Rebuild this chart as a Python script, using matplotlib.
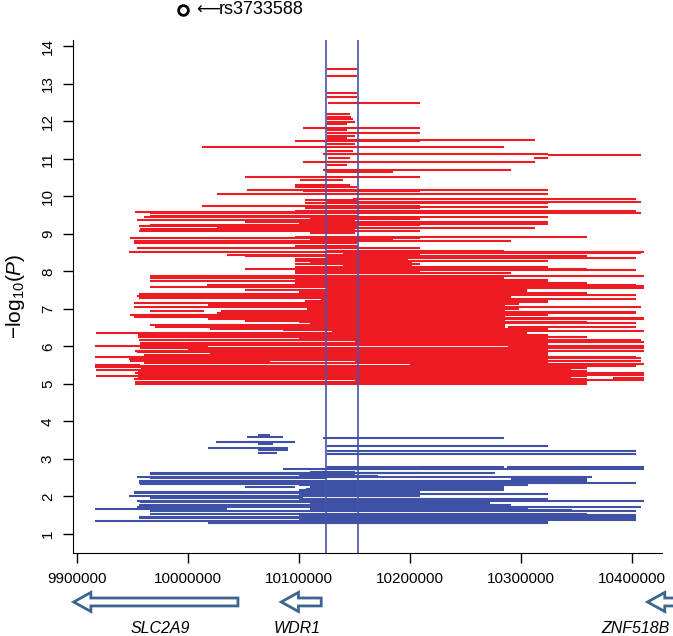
import matplotlib.pyplot as plt
import matplotlib.transforms as mtransforms
from matplotlib.patches import FancyArrow

plt.rcParams['font.family'] = ['Liberation Sans', 'DejaVu Sans']
plt.rcParams['mathtext.fontset'] = 'custom'
plt.rcParams['mathtext.rm'] = 'Liberation Sans'
plt.rcParams['mathtext.it'] = 'Liberation Sans:italic'

# segments: (-log10 P, start kb, end kb)
red_top = [
    (13.40, 10125, 10152), (13.21, 10125, 10152), (12.76, 10125, 10152), (12.65, 10125, 10152),
    (12.49, 10126, 10209), (12.20, 10125, 10146), (12.12, 10125, 10147), (12.07, 10125, 10149),
    (11.99, 10125, 10150), (11.93, 10125, 10143), (11.83, 10104, 10209), (11.77, 10125, 10143),
    (11.69, 10125, 10209), (11.61, 10125, 10150), (11.56, 10125, 10143), (11.51, 10125, 10313),
    (11.47, 10096, 10209), (11.40, 10125, 10150), (11.31, 10013, 10285), (11.22, 10125, 10149),
    (11.14, 10122, 10152), (11.12, 10122, 10324), (11.10, 10324, 10408), (11.03, 10126, 10146),
    (11.02, 10312, 10324), (10.91, 10104, 10313), (10.84, 10125, 10143), (10.71, 10122, 10291),
    (10.65, 10125, 10185), (10.52, 10051, 10209), (10.44, 10101, 10140), (10.31, 10096, 10146),
    (10.25, 10096, 10152),
]

red_mid = [
    (10.17, 10053, 10324), (10.13, 10104, 10209), (10.07, 10026, 10324), (9.93, 10149, 10404),
    (9.91, 10105, 10152), (9.86, 10125, 10408), (9.82, 10105, 10324), (9.75, 10013, 10209),
    (9.73, 10149, 10324), (9.68, 10105, 10209), (9.62, 10096, 10404), (9.58, 9952, 10209),
    (9.55, 9966, 10408), (9.48, 9966, 10152), (9.45, 9960, 10324), (9.39, 10110, 10209),
    (9.37, 9954, 10150), (9.33, 10171, 10185), (9.31, 10051, 10324), (9.27, 10100, 10324),
    (9.24, 9966, 10209), (9.21, 9956, 10152), (9.15, 10026, 10313), (9.12, 9957, 10150),
    (9.09, 9956, 10209), (9.03, 10110, 10150), (8.93, 10096, 10359), (8.90, 9948, 10209),
    (8.86, 10110, 10185), (8.82, 9951, 10291), (8.80, 10018, 10152), (8.75, 9951, 10152),
    (8.69, 10096, 10153), (8.62, 9954, 10209), (8.55, 10125, 10285), (8.52, 9947, 10411),
    (8.49, 10140, 10408), (8.44, 10035, 10209), (8.40, 10051, 10359), (8.36, 10125, 10404),
    (8.32, 10096, 10198), (8.28, 10096, 10324), (8.24, 10110, 10202), (8.20, 10096, 10209),
    (8.16, 10140, 10202), (8.11, 10096, 10324), (8.06, 10051, 10359), (8.03, 10125, 10404),
    (8.00, 10096, 10209), (7.95, 10096, 10291), (7.89, 10110, 10411), (7.88, 9966, 10209),
    (7.82, 9966, 10285), (7.77, 10096, 10324), (7.75, 9966, 10209), (7.72, 10105, 10324),
    (7.69, 10096, 10359), (7.65, 10324, 10359), (7.64, 10017, 10404), (7.62, 10053, 10411),
    (7.58, 9966, 10291), (7.55, 10125, 10411), (7.51, 10051, 10305), (7.46, 10100, 10305),
    (7.43, 10100, 10359), (7.40, 9956, 10209), (7.39, 10110, 10359), (7.37, 10140, 10404),
    (7.35, 9954, 10286), (7.31, 10105, 10291), (7.29, 9956, 10209), (7.27, 10120, 10404),
    (7.22, 10105, 10324), (7.19, 10140, 10324), (7.15, 9951, 10209), (7.16, 9969, 10014),
    (7.13, 10120, 10298), (7.11, 10018, 10286), (7.06, 9951, 10408), (7.03, 10110, 10286),
    (6.99, 10107, 10298), (6.95, 9966, 10014), (6.95, 10030, 10286), (6.93, 10125, 10404),
    (6.90, 10026, 10404),
]

red_low = [
    (6.84, 9948, 10324), (6.83, 9966, 10014), (6.78, 9951, 10286), (6.75, 10130, 10411),
    (6.73, 10018, 10411), (6.69, 10051, 10286), (6.65, 10100, 10359), (6.62, 10110, 10404),
    (6.57, 9966, 10286), (6.52, 10288, 10404), (6.51, 9970, 10286), (6.47, 10020, 10324),
    (6.44, 10086, 10291), (6.42, 10130, 10411), (6.37, 9917, 10305), (6.35, 10110, 10305),
    (6.31, 9955, 10324), (6.27, 10060, 10324), (6.25, 9955, 10359), (6.21, 10100, 10324),
    (6.17, 9956, 10408), (6.16, 10000, 10324), (6.13, 10150, 10411), (6.10, 9957, 10324),
    (6.07, 10100, 10324), (6.02, 9916, 10018), (6.03, 9957, 10324), (6.01, 10288, 10411),
    (5.97, 9957, 10324), (5.95, 10150, 10411), (5.92, 10000, 10324), (5.89, 9952, 10324),
    (5.88, 10180, 10411), (5.84, 9954, 10324), (5.80, 10020, 10324), (5.77, 9960, 10324),
    (5.73, 9916, 10074), (5.73, 10266, 10404), (5.71, 9957, 10324), (5.68, 10100, 10408),
    (5.66, 9947, 10324), (5.63, 10020, 10324), (5.60, 9948, 10074), (5.60, 10150, 10408),
    (5.56, 9960, 10324), (5.53, 10200, 10411), (5.51, 9916, 9957), (5.48, 10275, 10404),
    (5.48, 9955, 10324), (5.45, 9916, 9960), (5.45, 9960, 10359), (5.42, 9958, 10359),
    (5.37, 9917, 10125), (5.37, 9960, 10345), (5.34, 9955, 10359), (5.30, 9952, 10411),
    (5.27, 9955, 10345), (5.24, 10100, 10411), (5.20, 9917, 9957), (5.20, 9957, 10359),
    (5.15, 10383, 10411), (5.15, 9955, 10345), (5.13, 9951, 10359), (5.11, 10150, 10411),
    (5.06, 9952, 10359), (5.03, 9955, 10345), (5.00, 9952, 10359),
]

blue_top = [
    (3.64, 10063, 10074), (3.59, 10053, 10086), (3.57, 10122, 10285), (3.46, 10025, 10096),
    (3.44, 10053, 10063), (3.39, 10063, 10077), (3.35, 10125, 10324), (3.29, 10018, 10090),
    (3.24, 10063, 10090), (3.22, 10125, 10404), (3.17, 10063, 10080), (3.13, 10125, 10404),
]

blue_low = [
    (2.78, 10125, 10285), (2.78, 10287, 10411), (2.73, 10086, 10411), (2.66, 10110, 10150),
    (2.63, 9966, 10209), (2.62, 10100, 10277), (2.60, 9966, 10150), (2.55, 10100, 10171),
    (2.53, 9954, 10150), (2.51, 10110, 10364), (2.48, 9966, 10125), (2.46, 10291, 10359),
    (2.42, 9956, 10359), (2.37, 9956, 10404), (2.33, 9957, 10122), (2.31, 10100, 10306),
    (2.26, 10051, 10096), (2.24, 10110, 10285), (2.19, 10106, 10285), (2.17, 10100, 10285),
    (2.13, 9951, 10209), (2.11, 10110, 10209), (2.08, 9951, 10209), (2.06, 10100, 10324),
    (2.01, 9947, 10209), (2.00, 10110, 10209), (1.95, 9966, 10104), (1.93, 10100, 10324),
    (1.89, 9954, 10209), (1.88, 10110, 10411), (1.84, 9957, 10209), (1.82, 10110, 10272),
    (1.77, 9956, 10291), (1.73, 10125, 10408), (1.71, 9954, 10209), (1.69, 10110, 10306),
    (1.66, 9916, 10035), (1.64, 10110, 10346), (1.60, 9966, 10404), (1.53, 9966, 10359),
    (1.51, 10100, 10404), (1.46, 9956, 10404), (1.42, 9956, 10404), (1.36, 10100, 10404),
    (1.35, 9916, 10324), (1.30, 10018, 10324),
]

# WDR1 region boundaries (bp)
vlines_bp = [10124700, 10153200]

# genes: name, tip (kb), tail (kb), label centre (kb)
genes = ['SLC2A9', 'WDR1', 'ZNF518B']
gene_tip = [9897, 10084, 10414]
gene_tail = [10045, 10120, 10470]
gene_label = [9975, 10098, 10403]

top_snp = 'rs3733588'
top_snp_kb = 9995.5
top_snp_p = 14.97

red = '#ED1C24'
blue = '#3F51A5'

fig = plt.figure(figsize=(6.73, 6.36), dpi=100)
ax = fig.add_axes([73/673, 83/636, 589/673, 513/636])

for seg, col in [(red_top, red), (red_mid, red), (red_low, red), (blue_top, blue), (blue_low, blue)]:
    ys = [s[0] for s in seg]
    x0 = [s[1]*1000 for s in seg]
    x1 = [s[2]*1000 for s in seg]
    ax.hlines(ys, x0, x1, colors=col, linewidth=1.5)

for v in vlines_bp:
    ax.axvline(v, color='#4355A6', linewidth=1.2)

ax.set_xlim(9896400, 10427000)
ax.set_ylim(0.49, 14.17)
ax.set_xticks([9900000, 10000000, 10100000, 10200000, 10300000, 10400000])
ax.set_xticklabels(['9900000', '10000000', '10100000', '10200000', '10300000', '10400000'])
ax.set_yticks(range(1, 15))
ax.tick_params(axis='both', length=7, width=1, labelsize=11, direction='out')
ax.tick_params(axis='x', pad=7)
ax.tick_params(axis='y', pad=6, labelrotation=90)
for lbl in ax.get_yticklabels():
    lbl.set_va('center')
ax.spines['top'].set_visible(False)
ax.spines['right'].set_visible(False)
ax.set_ylabel(r'$-$log$_{10}$($P$)', fontsize=15, labelpad=10)

# top SNP marker drawn above the plot region
ax.plot([top_snp_kb*1000], [top_snp_p], 'o', mfc='none', mec='black', ms=7, mew=2, clip_on=False)
ax.text(top_snp_kb*1000 + 11500, top_snp_p, '\u27f5', fontsize=12, va='center', ha='left',
        family='DejaVu Sans', clip_on=False)
ax.text(top_snp_kb*1000 + 32000, top_snp_p, top_snp, fontsize=13, va='center', ha='left',
        clip_on=False)

# gene arrows below the axis
trans = mtransforms.blended_transform_factory(ax.transData, fig.transFigure)
for name, tip, tail, lab in zip(genes, gene_tip, gene_tail, gene_label):
    arr = FancyArrow(tail*1000, 0.0535, (tip - tail)*1000, 0, width=0.0125, head_width=0.030,
                     head_length=15500, length_includes_head=True, transform=trans,
                     facecolor='white', edgecolor='#3C6592', linewidth=2, clip_on=False)
    fig.add_artist(arr)
    fig.text(lab*1000, 0.012, name, transform=trans, fontsize=11.5, style='italic', ha='center', va='center')

plt.savefig('out.png', dpi=100)
